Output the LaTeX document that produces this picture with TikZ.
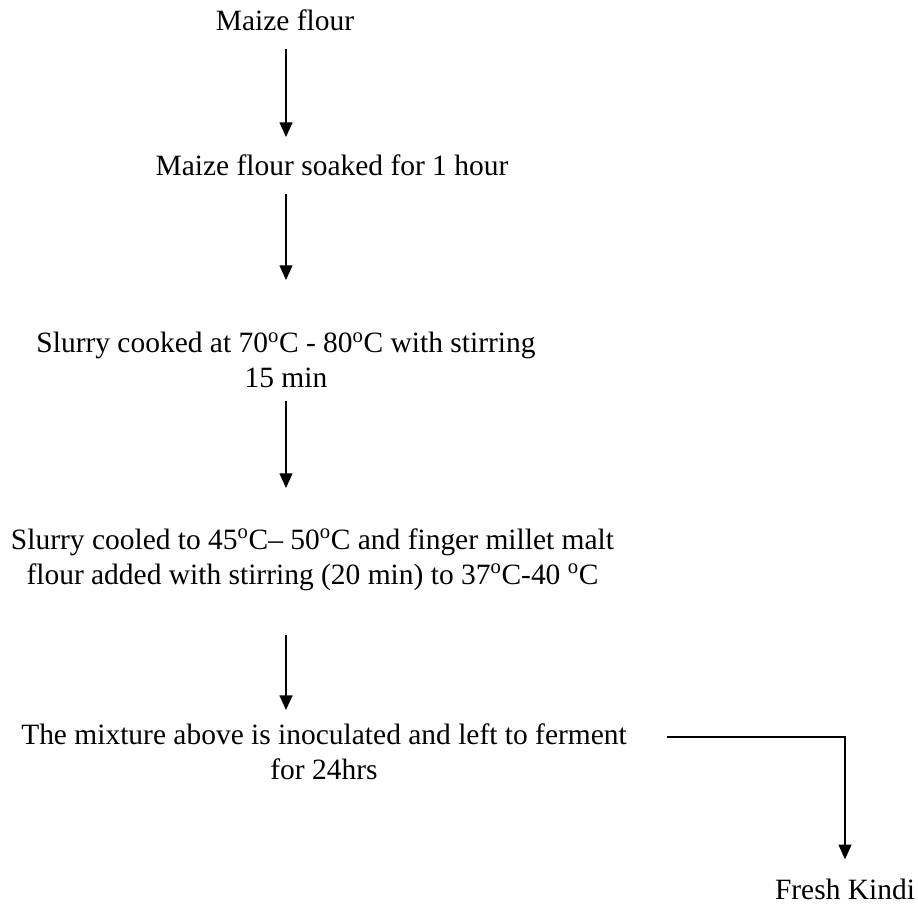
\documentclass[tikz,border=0pt]{standalone}
\usepackage{fontspec}
\setmainfont{Liberation Serif}
\usetikzlibrary{arrows.meta}

\newcommand{\degc}{\textsuperscript{o}C}

\begin{document}
\begin{tikzpicture}[x=0.75pt,y=-0.75pt,
    stage/.style={inner sep=0pt,align=center,font=\fontsize{22.1pt}{26.25pt}\selectfont},
    flow/.style={line width=1pt,-{Triangle[length=11pt,width=9.75pt]}}]
    \useasboundingbox (0,0) rectangle (918,905);

    % stages
    \node[stage,anchor=base] (maize) at (285,31) {Maize flour};
    \node[stage,anchor=base] (soak) at (332,176) {Maize flour soaked for 1 hour};
    \node[stage,anchor=north] (cooked) at (286,332) {Slurry cooked at 70\degc{} - 80\degc{} with stirring\\15 min};
    \node[stage,anchor=north] (cooled) at (312.5,528) {Slurry cooled to 45\degc{}-- 50\degc{} and finger millet malt\\flour added with stirring (20 min) to 37\degc{}-40 \degc};
    \node[stage,anchor=north] (mix) at (324,723) {The mixture above is inoculated and left to ferment\\for 24hrs};
    \node[stage,anchor=base] (kindi) at (845,899) {Fresh Kindi};

    % arrows
    \draw[flow,shorten <=12.75pt,shorten >=13.5pt] (cooked.north |- maize.south) -- (cooked.north |- soak.north);
    \draw[flow,shorten <=12.75pt,shorten >=39pt] (cooked.north |- soak.south) -- (cooked.north);
    \draw[flow,shorten <=9.75pt,shorten >=30pt] (cooked.south) -- (cooked.south |- cooled.north);
    \draw[flow,shorten <=33pt,shorten >=9.75pt] (cooked.south |- cooled.south) -- (cooked.south |- mix.north);
    \draw[flow,shorten >=14.25pt] ([xshift=30pt,yshift=-10.5pt]mix.north east) -| (kindi.north);
\end{tikzpicture}
\end{document}
